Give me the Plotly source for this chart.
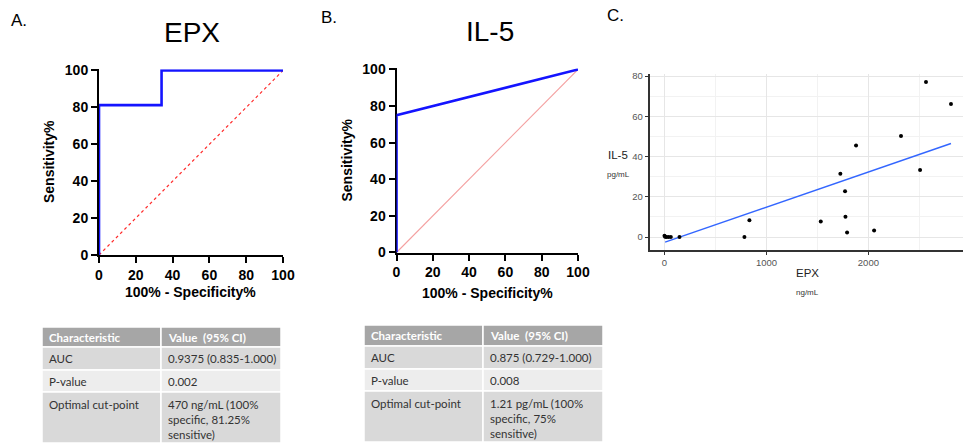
import plotly.graph_objects as go

W, H = 963, 445

# ---------------- data ----------------
roc_ticks = [0, 20, 40, 60, 80, 100]

epx_fpr = [0, 0, 34, 34, 100]
epx_sens = [0, 81.25, 81.25, 100, 100]

il5_fpr = [0, 0, 100]
il5_sens = [0, 75, 100]

diag_x = [0, 100]
diag_y = [0, 100]

epx_conc = [0, 6, 17, 39, 62, 147, 784, 833, 1533, 1725, 1771, 1775, 1791, 1879, 2056, 2320, 2507, 2565, 2810]
il5_conc = [0.7, 0.2, 0, 0, 0, 0, 0, 8.4, 7.8, 31.5, 22.8, 10.1, 2.3, 45.5, 3.3, 50.2, 33.3, 77.0, 66.1]

fit_x = [6, 2810]
fit_y = [-2.5, 46.5]

scatter_xticks = [0, 1000, 2000]
scatter_yticks = [0, 20, 40, 60, 80]

table_a_rows = [
    ["Characteristic", "Value  (95% CI)"],
    ["AUC", "0.9375 (0.835-1.000)"],
    ["P-value", "0.002"],
    ["Optimal cut-point", "470 ng/mL (100%<br>specific, 81.25%<br>sensitive)"],
]
table_b_rows = [
    ["Characteristic", "Value  (95% CI)"],
    ["AUC", "0.875 (0.729-1.000)"],
    ["P-value", "0.008"],
    ["Optimal cut-point", "1.21 pg/mL (100%<br>specific, 75%<br>sensitive)"],
]


def px(x):
    return x / W


def py(y):
    return 1 - y / H


fig = go.Figure()

ARIAL = "Liberation Sans, Arial, sans-serif"
BLUE = "#1414ff"

# ---------------- ROC A ----------------
fig.add_trace(go.Scatter(x=diag_x, y=diag_y, mode="lines",
                         line=dict(color="#ff2a2a", width=1.2, dash="dot"),
                         xaxis="x", yaxis="y", hoverinfo="skip"))
fig.add_trace(go.Scatter(x=epx_fpr, y=epx_sens, mode="lines",
                         line=dict(color=BLUE, width=2.6),
                         xaxis="x", yaxis="y", cliponaxis=False))

# ---------------- ROC B ----------------
fig.add_trace(go.Scatter(x=diag_x, y=diag_y, mode="lines",
                         line=dict(color="#f4a0a0", width=1.1),
                         xaxis="x2", yaxis="y2", hoverinfo="skip"))
fig.add_trace(go.Scatter(x=il5_fpr, y=il5_sens, mode="lines",
                         line=dict(color=BLUE, width=2.6),
                         xaxis="x2", yaxis="y2", cliponaxis=False))

# ---------------- Scatter C ----------------
fig.add_trace(go.Scatter(x=fit_x, y=fit_y, mode="lines",
                         line=dict(color="#3366ff", width=1.4),
                         xaxis="x3", yaxis="y3", hoverinfo="skip"))
fig.add_trace(go.Scatter(x=epx_conc, y=il5_conc, mode="markers",
                         marker=dict(color="black", size=4),
                         xaxis="x3", yaxis="y3"))

roc_axis = dict(showgrid=False, zeroline=False, showline=True,
                linecolor="black", linewidth=2, ticks="outside", ticklen=6,
                tickwidth=2, tickcolor="black", tickvals=roc_ticks,
                tickfont=dict(family=ARIAL, size=14, color="black", weight="bold"),
                layer="below traces", fixedrange=True)

grid_axis = dict(showgrid=True, gridcolor="#e6e6e6", gridwidth=1,
                 minor=dict(showgrid=True, gridcolor="#f2f2f2", gridwidth=1),
                 zeroline=False, showline=True, linecolor="#333333", linewidth=1.6,
                 ticks="outside", ticklen=3, tickcolor="#333333",
                 tickfont=dict(family=ARIAL, size=9.5, color="#555555"),
                 fixedrange=True)

Y_TOP = 100.7  # small headroom so the 100% line is not clipped

fig.update_layout(
    autosize=True, margin=dict(l=0, r=0, t=0, b=0, autoexpand=False),
    paper_bgcolor="white", plot_bgcolor="white", showlegend=False,
    xaxis=dict(roc_axis, domain=[px(99), px(283)], anchor="y", range=[0, 100]),
    yaxis=dict(roc_axis, domain=[py(255), py(70.5 - 184.5 * 0.007)], anchor="x",
               range=[0, Y_TOP]),
    xaxis2=dict(roc_axis, domain=[px(396.5), px(578)], anchor="y2", range=[0, 100]),
    yaxis2=dict(roc_axis, domain=[py(252.5), py(69.5 - 183 * 0.007)], anchor="x2",
                range=[0, Y_TOP]),
    xaxis3=dict(grid_axis, domain=[px(649.5), 1], anchor="y3", range=[-147, 2928],
                tickvals=scatter_xticks, minor_tickvals=[500, 1500, 2500]),
    yaxis3=dict(grid_axis, domain=[py(250), py(74)], anchor="x3", range=[-6.4, 81],
                tickvals=scatter_yticks, minor_tickvals=[10, 30, 50, 70]),
)

ann = []


def text(x, y, s, size, family=ARIAL, color="black", weight="normal",
         xanchor="center", angle=0):
    ann.append(dict(x=px(x), y=py(y), xref="paper", yref="paper", text=s,
                    showarrow=False, xanchor=xanchor, yanchor="middle",
                    textangle=angle,
                    font=dict(family=family, size=size, color=color, weight=weight)))


# panel labels and titles
text(19, 20, "A.", 17)
text(329, 17, "B.", 17)
text(615, 16, "C.", 17)
text(192, 32, "EPX", 28)
text(490, 31, "IL-5", 28)

# ROC axis titles
text(49, 162, "Sensitivity%", 14, weight="bold", angle=-90)
text(190, 292, "100% - Specificity%", 14, weight="bold")
text(346.5, 160, "Sensitivity%", 14, weight="bold", angle=-90)
text(487, 293, "100% - Specificity%", 14, weight="bold")

# scatter axis titles
text(618, 155, "IL-5", 11.5, color="#222222")
text(618, 174, "pg/mL", 8, color="#333333")
text(807, 273, "EPX", 11.5, color="#222222")
text(807, 292, "ng/mL", 8, color="#333333")

# ---------------- tables ----------------
TABLE_FONT = "Lato, sans-serif"
row_fills = ["#a6a6a6", "#d9d9d9", "#ededed", "#d9d9d9"]
shapes = []


def draw_table(rows, x0, xm, x1, ys):
    for i, row in enumerate(rows):
        top, bot = ys[i], ys[i + 1]
        multi = any("<br>" in c for c in row)
        for j, (a, b) in enumerate([(x0, xm), (xm, x1)]):
            shapes.append(dict(type="rect", xref="paper", yref="paper",
                               x0=px(a), x1=px(b), y0=py(bot), y1=py(top),
                               fillcolor=row_fills[i], line=dict(color="white", width=1.5),
                               layer="below"))
            lines = row[j].split("<br>")
            if multi:
                ycs = [top + 12 + 15 * k for k in range(len(lines))]
            else:
                ycs = [(top + bot) / 2]
            for s, yy in zip(lines, ycs):
                if i == 0:
                    text(a + 5, yy, s, 11.5, family=TABLE_FONT, color="white",
                         weight="bold", xanchor="left")
                else:
                    text(a + 5, yy, s, 11.5, family=TABLE_FONT, color="#333333",
                         xanchor="left")


draw_table(table_a_rows, 42, 161, 281, [327, 347, 370, 392, 443])
draw_table(table_b_rows, 364, 483, 603, [325, 346, 369, 391, 442])

fig.update_layout(annotations=ann, shapes=shapes)

post = (
    "var gd=document.getElementById('{plot_id}');"
    "var css='margin:0;padding:0;width:100%;height:100%;overflow:hidden;';"
    "document.documentElement.style.cssText=css;"
    "document.body.style.cssText=css;"
    "gd.parentElement.style.cssText=css;"
    "gd.style.width='100%';gd.style.height='100%';"
    "Plotly.Plots.resize(gd);"
)

fig.write_html(
    "out.html",
    config={"displayModeBar": False, "responsive": True},
    default_width="100%",
    default_height="100%",
    post_script=post,
)
